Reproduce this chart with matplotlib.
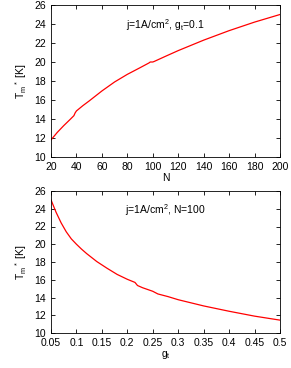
import matplotlib
matplotlib.use("Agg")
import matplotlib.pyplot as plt

plt.rcParams['font.family'] = ['Liberation Sans', 'DejaVu Sans']
plt.rcParams['mathtext.fontset'] = 'custom'
plt.rcParams['mathtext.rm'] = 'Liberation Sans'
plt.rcParams['mathtext.it'] = 'Liberation Sans'

# top panel: T_m* vs N
n_vals = [20, 25, 30, 35, 38, 39, 40, 45, 50, 60, 70, 80, 90, 97, 98, 100, 101,
          110, 120, 140, 160, 180, 200]
tm_n = [11.8, 12.6, 13.3, 13.95, 14.35, 14.65, 14.85, 15.4, 15.9, 16.95, 17.9,
        18.7, 19.4, 19.9, 20.0, 20.0, 20.05, 20.6, 21.2, 22.3, 23.3, 24.2, 25.0]

# bottom panel: T_m* vs g_t
g_vals = [0.05, 0.06, 0.07, 0.08, 0.09, 0.1, 0.11, 0.12, 0.14, 0.16, 0.18, 0.2,
          0.215, 0.22, 0.23, 0.25, 0.26, 0.28, 0.3, 0.35, 0.4, 0.45, 0.5]
tm_g = [25.0, 23.6, 22.4, 21.4, 20.6, 20.0, 19.45, 18.95, 18.05, 17.3, 16.6,
        16.05, 15.7, 15.35, 15.1, 14.7, 14.4, 14.1, 13.75, 13.05, 12.45, 11.9, 11.45]

fig = plt.figure(figsize=(2.91, 3.68), dpi=100)
ax1 = fig.add_axes([51/291, 1 - 157/368, 229/291, 152/368])
ax2 = fig.add_axes([51/291, 1 - 333/368, 229/291, 142/368])

fs = 7.5
for ax in (ax1, ax2):
    ax.tick_params(direction='in', top=True, right=True, labelsize=fs, length=3, width=0.6)
    for s in ax.spines.values():
        s.set_linewidth(0.6)
    ax.set_ylim(10, 26)
    ax.set_yticks(range(10, 27, 2))
    ax.set_ylabel(r'T$_m$$^*$ [K]', fontsize=fs)

ax1.plot(n_vals, tm_n, color='red', lw=0.9)
ax1.set_xlim(20, 200)
ax1.set_xticks(range(20, 201, 20))
ax1.set_xlabel('N', fontsize=fs, labelpad=1)
ax1.text(0.5, 0.92, r'j=1A/cm$^2$, g$_t$=0.1', transform=ax1.transAxes,
         ha='center', va='top', fontsize=fs)

ax2.plot(g_vals, tm_g, color='red', lw=0.9)
ax2.set_xlim(0.05, 0.5)
ax2.set_xticks([0.05, 0.1, 0.15, 0.2, 0.25, 0.3, 0.35, 0.4, 0.45, 0.5])
ax2.set_xticklabels(['0.05', '0.1', '0.15', '0.2', '0.25', '0.3', '0.35', '0.4', '0.45', '0.5'])
ax2.set_xlabel(r'g$_t$', fontsize=fs, labelpad=1)
ax2.text(0.5, 0.92, r'j=1A/cm$^2$, N=100', transform=ax2.transAxes,
         ha='center', va='top', fontsize=fs)

fig.savefig('out.png', dpi=100)
